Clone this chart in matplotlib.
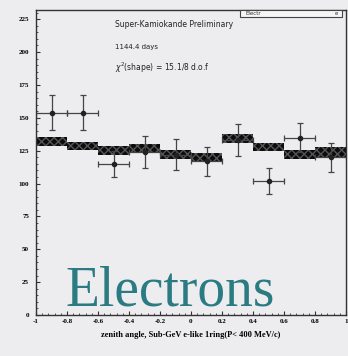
import numpy as np
import matplotlib
matplotlib.use("Agg")
import matplotlib.pyplot as plt
from matplotlib.ticker import MultipleLocator
from matplotlib.patches import Rectangle

# zenith angle bins (cos theta), Sub-GeV e-like 1ring
bin_centers = [-0.9, -0.7, -0.5, -0.3, -0.1, 0.1, 0.3, 0.5, 0.7, 0.9]
data_vals = [154, 154, 115, 124, 122, 117, 133, 102, 135, 120]
data_errs = [13, 13, 10, 12, 12, 11, 12, 10, 11, 11]
mc_vals = [132, 128.5, 125, 127, 122, 120, 134, 127.5, 122, 124]
mc_errs = [3.2, 3.2, 3.4, 3.3, 3.2, 3.2, 3.5, 3.0, 3.5, 4.0]

bg = "#ededf0"
fig = plt.figure(figsize=(3.48, 3.56), dpi=100, facecolor=bg)
ax = fig.add_axes([36/348, 41/356, 310/348, 305/356], facecolor=bg)

# MC expectation boxes
ax.bar(bin_centers, [2*e for e in mc_errs], width=0.2,
       bottom=[v - e for v, e in zip(mc_vals, mc_errs)],
       color="#0c0c0c", edgecolor="#555555", hatch="xxxx", linewidth=0)

# data points
ax.errorbar(bin_centers, data_vals, yerr=data_errs, xerr=0.1, fmt="o",
            color="#222222", ecolor="#444444", markersize=3, elinewidth=0.9,
            capsize=2.5, capthick=0.9)

ax.set_xlim(-1, 1)
ax.set_ylim(0, 232)
ax.xaxis.set_major_locator(MultipleLocator(0.2))
ax.xaxis.set_minor_locator(MultipleLocator(0.04))
ax.yaxis.set_major_locator(MultipleLocator(25))
ax.yaxis.set_minor_locator(MultipleLocator(5))
ax.tick_params(which="both", direction="in", labelsize=5, color="#333333")
ax.tick_params(which="major", length=3)
ax.tick_params(which="minor", length=1.5)
ax.tick_params(axis="x", pad=3)
ax.tick_params(axis="y", pad=5)
xt = np.arange(-1, 1.01, 0.2)
ax.set_xticks(xt)
ax.set_xticklabels(["-1", "-0.8", "-0.6", "-0.4", "-0.2", "0",
                    "0.2", "0.4", "0.6", "0.8", "1"], fontweight="bold",
                   family="Liberation Serif")
for lab in ax.get_yticklabels():
    lab.set_fontweight("bold")
    lab.set_family("Liberation Serif")
for s in ax.spines.values():
    s.set_color("#333333")
    s.set_linewidth(1.0)

ax.set_xlabel("zenith angle, Sub-GeV e-like 1ring(P< 400 MeV/c)",
              fontsize=6, fontweight="bold", family="Liberation Serif",
              labelpad=5)

ax.text(0.255, 0.951, "Super-Kamiokande Preliminary", transform=ax.transAxes,
        fontsize=5.5, va="center", color="#222222")
ax.text(0.255, 0.878, "1144.4 days", transform=ax.transAxes,
        fontsize=5, va="center", color="#222222")
ax.text(0.255, 0.81, r"$\chi^2$(shape) = 15.1/8 d.o.f", transform=ax.transAxes,
        fontsize=5.5, va="center", color="#222222")

ax.text(0.094, 0.03, "Electrons", transform=ax.transAxes, fontsize=40,
        family="Liberation Serif", color="#2b7b83", va="baseline")

# title box sitting on the top frame
ax.add_patch(Rectangle((0.658, 0.978), 0.33, 0.022, transform=ax.transAxes,
                       fc="#f6f6f6", ec="#444444", lw=0.8, clip_on=False,
                       zorder=5))
ax.text(0.675, 0.989, "Electr", transform=ax.transAxes, fontsize=4,
        va="center", color="#333333", zorder=6)
ax.text(0.97, 0.989, "e", transform=ax.transAxes, fontsize=4,
        va="center", ha="center", color="#333333", zorder=6)

fig.savefig("out.png", dpi=100, facecolor=bg)
